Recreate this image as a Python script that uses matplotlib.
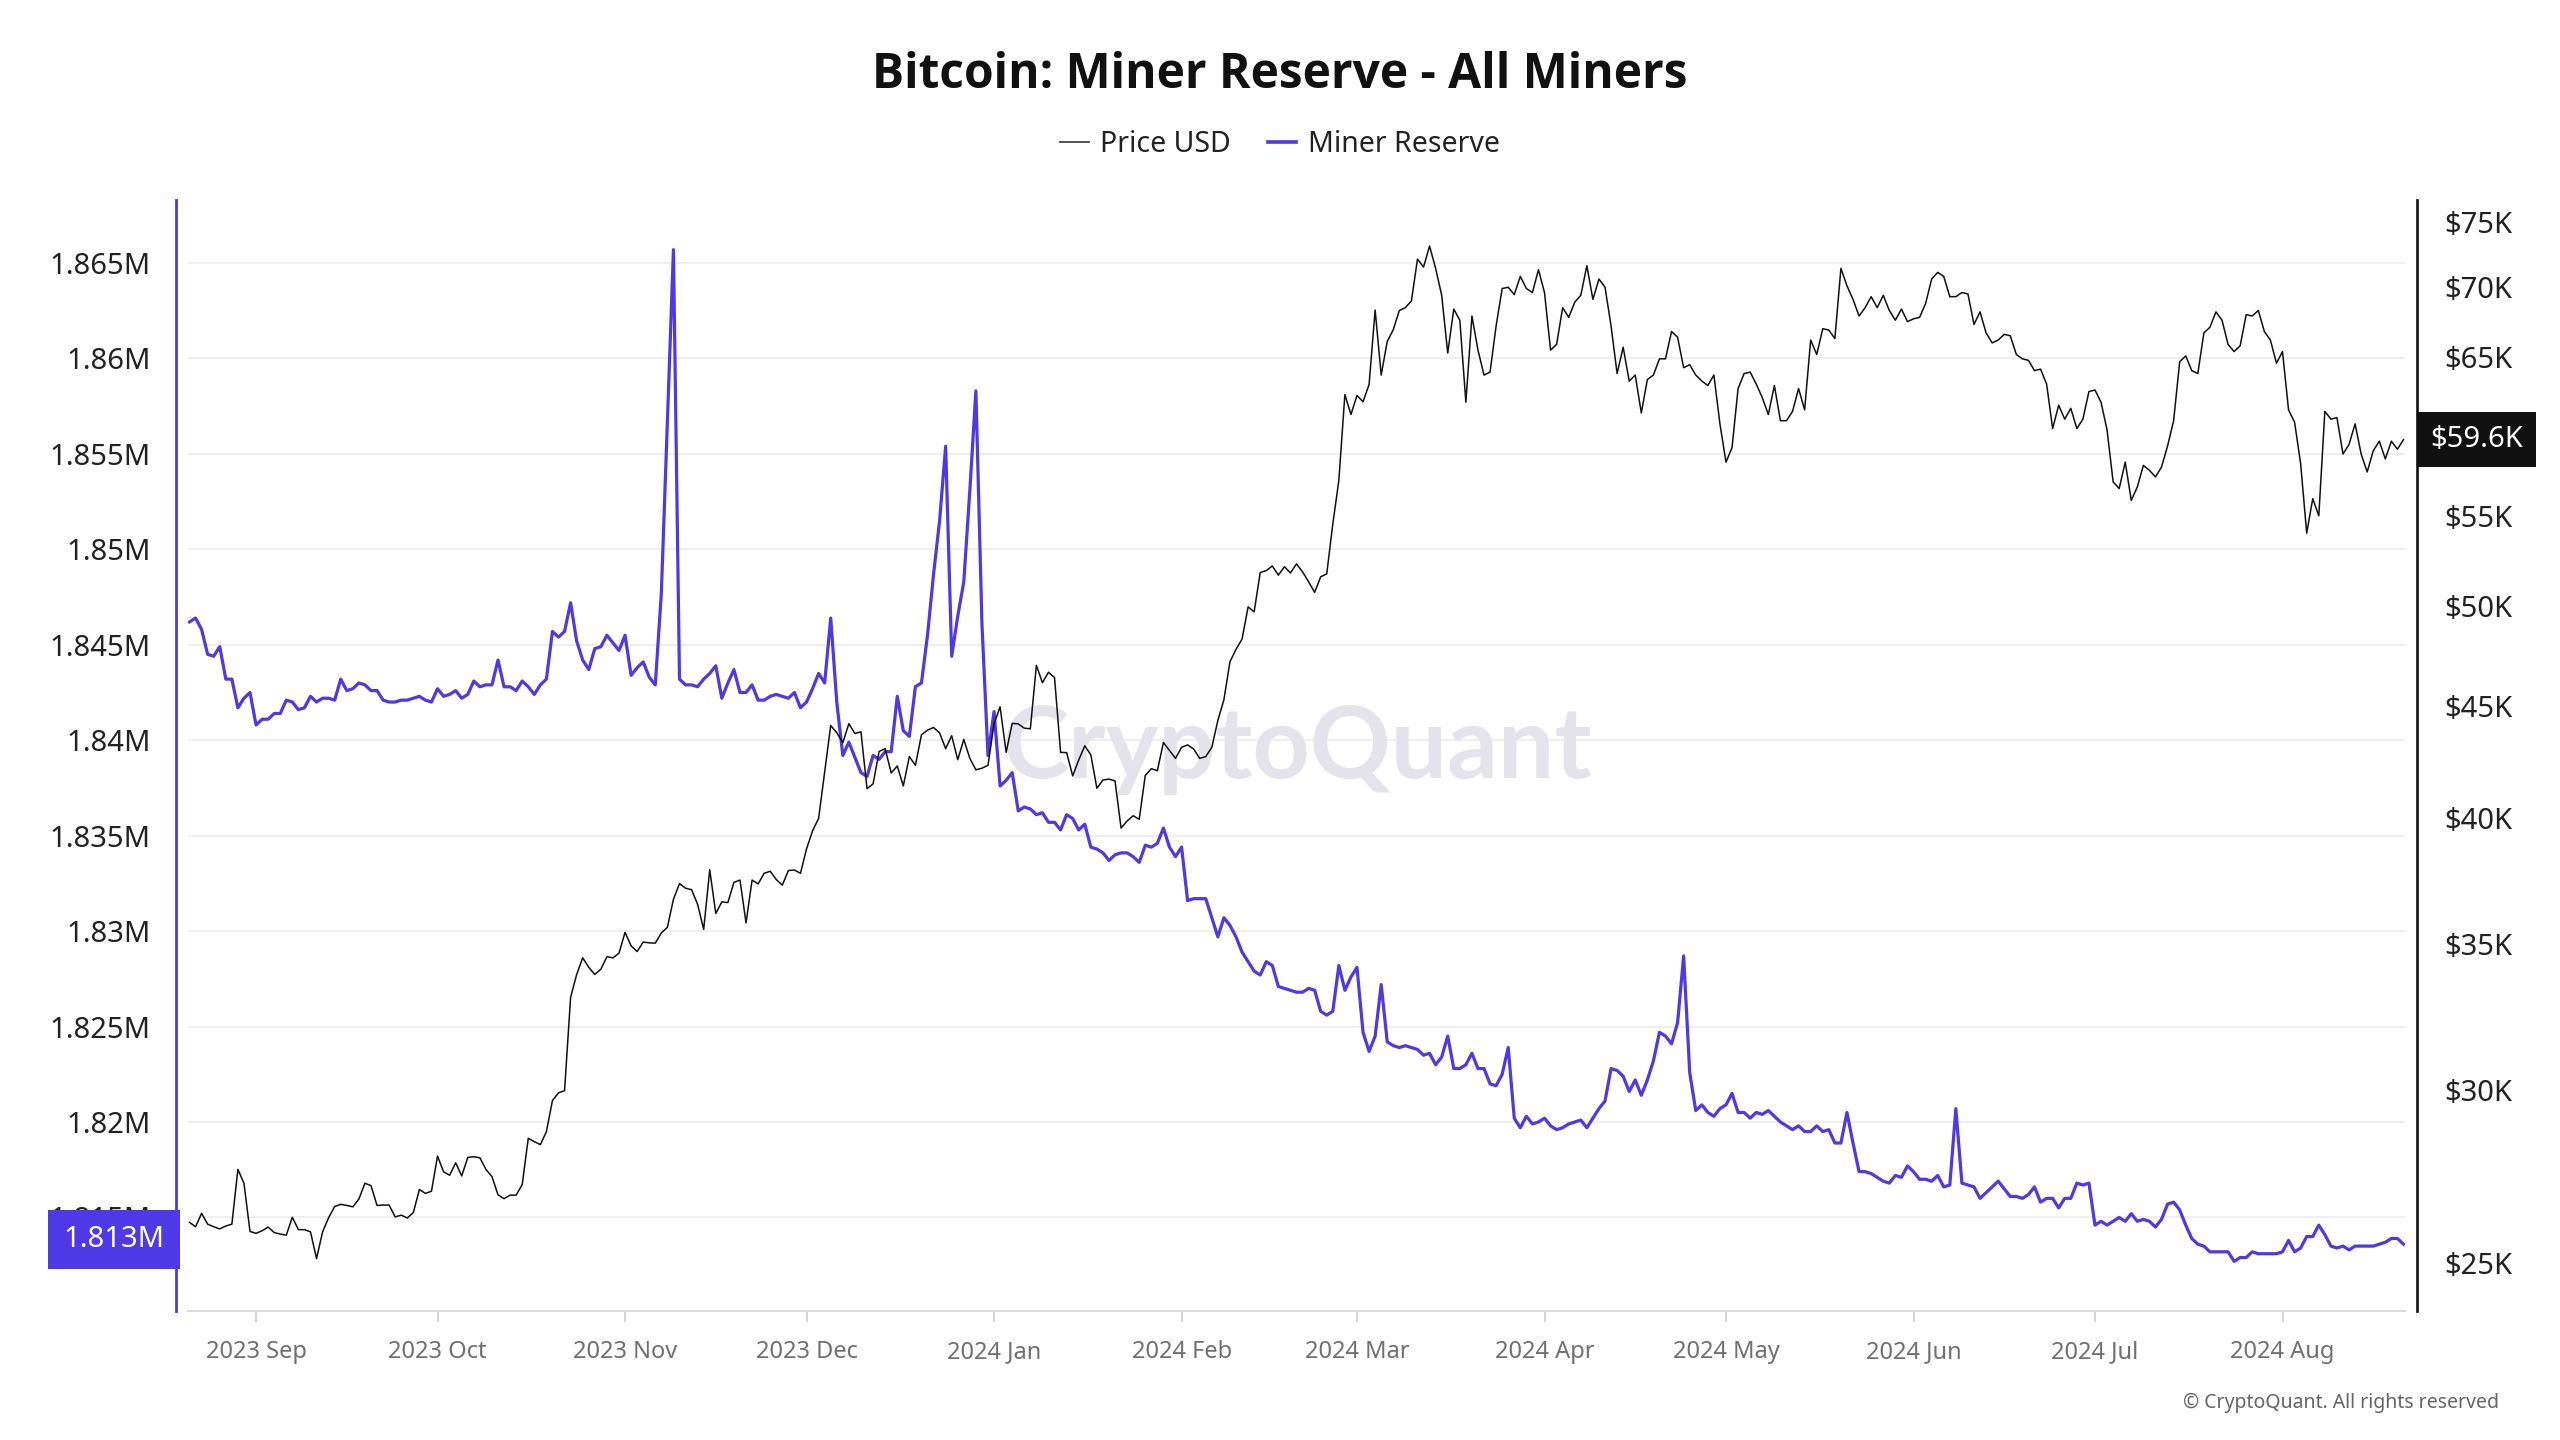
import numpy as np
import pandas as pd
import matplotlib
matplotlib.use("Agg")
import matplotlib.pyplot as plt
import matplotlib.dates as mdates
import matplotlib.transforms as mtransforms
from matplotlib.lines import Line2D
from matplotlib.ticker import NullLocator, FuncFormatter

plt.rcParams['font.family'] = ['Noto Sans', 'DejaVu Sans']

# ---------------------------------------------------------------- data
start_date = '2023-08-21'   # daily values, one per day

# BTC price, thousands of USD
price_usd_k = [
    26.10, 25.98, 26.35, 26.05, 25.98, 25.92, 26.00, 26.05, 27.60, 27.20, 25.85,
    25.80, 25.87, 25.97, 25.82, 25.78, 25.75, 26.24, 25.90, 25.90, 25.84, 25.12, 25.84, 26.23, 26.54, 26.60,
    26.57, 26.53, 26.75, 27.20, 27.13, 26.57, 26.58, 26.58, 26.25, 26.30, 26.22, 26.37, 27.02, 26.91, 26.97,
    27.99, 27.53, 27.43, 27.79, 27.41, 27.95, 27.97, 27.94, 27.60, 27.39, 26.87, 26.76, 26.86, 26.86, 27.16,
    28.52, 28.42, 28.33, 28.72, 29.68, 29.92, 29.99, 33.09, 33.90, 34.50, 34.16, 33.90, 34.09, 34.54, 34.50, 34.67,
    35.44, 34.94, 34.73, 35.08, 35.05, 35.04, 35.42, 35.63, 36.70, 37.31, 37.13, 37.07, 36.50, 35.55, 37.86,
    36.15, 36.60, 36.57, 37.36, 37.45, 35.80, 37.45, 37.30, 37.72, 37.80, 37.47, 37.25, 37.83, 37.85, 37.72,
    38.70, 39.45, 39.97, 41.98, 44.08, 43.75, 43.29, 44.17, 43.71, 43.79, 41.24, 41.45, 42.89, 43.02, 41.93,
    42.24, 41.36, 42.66, 42.27, 43.65, 43.87, 43.99, 43.74, 43.02, 43.61, 42.52, 43.44, 42.58, 42.07, 42.14, 42.27,
    44.17, 44.96, 42.85, 44.18, 44.16, 43.96, 43.93, 46.97, 46.12, 46.63, 46.37, 42.85, 42.84, 41.80, 42.51,
    43.15, 42.74, 41.26, 41.62, 41.66, 41.58, 39.56, 39.86, 40.08, 39.93, 41.82, 42.12, 42.03, 43.30, 42.94, 42.58,
    43.08, 43.19, 43.00, 42.58, 42.66, 43.08, 44.32, 45.30, 47.15, 47.77, 48.29, 49.96, 49.70, 51.80, 51.91,
    52.16, 51.66, 52.12, 51.78, 52.28, 51.84, 51.30, 50.73, 51.57, 51.73, 54.52, 57.09, 62.50, 61.20,
    62.44, 62.03, 63.17, 68.33, 63.80, 66.10, 66.93, 68.30, 68.50, 69.00, 72.10, 71.50, 73.10, 71.40, 69.40,
    65.30, 68.40, 67.60, 62.00, 67.90, 65.50, 63.80, 64.00, 67.20, 69.90, 69.99, 69.45, 70.80, 69.90, 69.60, 71.30,
    69.60, 65.50, 65.90, 68.50, 67.80, 68.90, 69.40, 71.60, 69.10, 70.60, 70.00, 67.20, 63.90, 65.70, 63.40,
    63.80, 61.30, 63.50, 63.80, 64.90, 64.90, 66.80, 66.40, 64.30, 64.50, 63.80, 63.40, 63.10, 63.80, 60.60,
    58.20, 59.10, 62.90, 63.90, 64.00, 63.20, 62.30, 61.20, 63.10, 60.80, 60.80, 61.40, 62.90, 61.50, 66.20,
    65.20, 67.00, 66.90, 66.30, 71.40, 70.10, 69.10, 67.90, 68.50, 69.30, 68.50, 69.40, 68.30, 67.60, 68.40, 67.50,
    67.70, 67.80, 68.80, 70.60, 71.10, 70.80, 69.30, 69.30, 69.60, 69.50, 67.30, 68.20, 66.70, 66.00, 66.20,
    66.60, 66.50, 65.20, 64.90, 64.80, 64.10, 64.20, 63.20, 60.30, 61.80, 60.90, 61.60, 60.30, 60.90, 62.70,
    62.80, 62.00, 60.20, 57.00, 56.60, 58.20, 55.90, 56.70, 58.00, 57.70, 57.30, 57.90, 59.20, 60.80, 64.70,
    65.10, 64.10, 63.90, 66.70, 67.10, 68.20, 67.60, 65.90, 65.40, 65.80, 68.00, 67.90, 68.30, 66.80, 66.20, 64.60,
    65.40, 61.50, 60.70, 58.10, 54.00, 56.00, 55.00, 61.40, 60.90, 61.00, 58.70, 59.30, 60.60, 58.70, 57.60,
    58.90, 59.50, 58.40, 59.50, 59.00, 59.60,
]

# miner reserve, thousands of BTC
miner_reserve_k = [
    1846.2, 1846.4, 1845.8, 1844.5, 1844.4, 1844.9, 1843.2, 1843.2, 1841.7, 1842.2, 1842.5,
    1840.8, 1841.1, 1841.1, 1841.4, 1841.4, 1842.1, 1842.0, 1841.6, 1841.7, 1842.3, 1842.0, 1842.2, 1842.2, 1842.1, 1843.2,
    1842.6, 1842.7, 1843.0, 1842.9, 1842.6, 1842.6, 1842.1, 1842.0, 1842.0, 1842.1, 1842.1, 1842.2, 1842.3, 1842.1, 1842.0,
    1842.7, 1842.3, 1842.4, 1842.6, 1842.2, 1842.4, 1843.1, 1842.8, 1842.9, 1842.9, 1844.2, 1842.8, 1842.8, 1842.6, 1843.1,
    1842.8, 1842.4, 1842.9, 1843.2, 1845.7, 1845.4, 1845.7, 1847.2, 1845.2, 1844.2, 1843.7, 1844.8, 1844.9, 1845.5, 1845.1, 1844.7,
    1845.5, 1843.4, 1843.8, 1844.1, 1843.3, 1842.9, 1847.7, 1856.7, 1865.7, 1843.2, 1842.9, 1842.9, 1842.8, 1843.2, 1843.5,
    1843.9, 1842.2, 1843.0, 1843.7, 1842.5, 1842.5, 1842.9, 1842.1, 1842.1, 1842.3, 1842.4, 1842.3, 1842.2, 1842.5, 1841.7,
    1842.0, 1842.7, 1843.5, 1843.0, 1846.4, 1842.0, 1839.2, 1839.9, 1839.1, 1838.3, 1838.1, 1839.2, 1839.0, 1839.4, 1839.4,
    1842.3, 1840.5, 1840.2, 1842.8, 1843.0, 1845.5, 1848.7, 1851.5, 1855.4, 1844.4, 1846.5, 1848.3, 1853.1, 1858.3, 1846.1, 1839.2,
    1841.5, 1837.6, 1837.9, 1838.3, 1836.3, 1836.5, 1836.4, 1836.1, 1836.2, 1835.7, 1835.7, 1835.3, 1836.1, 1835.9, 1835.3,
    1835.6, 1834.4, 1834.3, 1834.1, 1833.7, 1834.0, 1834.1, 1834.1, 1833.9, 1833.6, 1834.5, 1834.4, 1834.6, 1835.4, 1834.4, 1833.9,
    1834.4, 1831.6, 1831.7, 1831.7, 1831.7, 1830.7, 1829.7, 1830.7, 1830.3, 1829.7, 1828.9, 1828.4, 1827.9, 1827.7, 1828.4,
    1828.2, 1827.1, 1827.0, 1826.9, 1826.8, 1826.8, 1827.0, 1826.9, 1825.8, 1825.6, 1825.8, 1828.2, 1826.9, 1827.6,
    1828.1, 1824.7, 1823.7, 1824.5, 1827.2, 1824.2, 1824.0, 1823.9, 1824.0, 1823.9, 1823.8, 1823.5, 1823.6, 1823.0, 1823.4,
    1824.5, 1822.8, 1822.8, 1823.0, 1823.6, 1822.8, 1822.8, 1822.0, 1821.9, 1822.5, 1823.9, 1820.2, 1819.7, 1820.3, 1819.9, 1820.0,
    1820.2, 1819.8, 1819.6, 1819.7, 1819.9, 1820.0, 1820.1, 1819.7, 1820.2, 1820.7, 1821.1, 1822.8, 1822.7, 1822.4, 1821.6,
    1822.2, 1821.4, 1822.2, 1823.2, 1824.7, 1824.5, 1824.1, 1825.2, 1828.7, 1822.6, 1820.6, 1820.9, 1820.5, 1820.3, 1820.7,
    1820.9, 1821.5, 1820.5, 1820.5, 1820.2, 1820.5, 1820.4, 1820.6, 1820.3, 1820.0, 1819.8, 1819.6, 1819.8, 1819.5, 1819.5,
    1819.8, 1819.5, 1819.6, 1818.9, 1818.9, 1820.5, 1818.9, 1817.4, 1817.4, 1817.3, 1817.1, 1816.9, 1816.8, 1817.2, 1817.1, 1817.7,
    1817.4, 1817.0, 1817.0, 1816.9, 1817.2, 1816.6, 1816.7, 1820.7, 1816.8, 1816.7, 1816.6, 1816.0, 1816.3, 1816.6, 1816.9,
    1816.5, 1816.1, 1816.1, 1816.0, 1816.2, 1816.6, 1815.8, 1816.0, 1816.0, 1815.5, 1816.0, 1816.0, 1816.8, 1816.7, 1816.8,
    1814.6, 1814.8, 1814.6, 1814.8, 1815.0, 1814.8, 1815.2, 1814.8, 1814.9, 1814.8, 1814.5, 1814.9, 1815.7, 1815.8, 1815.4,
    1814.6, 1813.9, 1813.6, 1813.5, 1813.2, 1813.2, 1813.2, 1813.2, 1812.7, 1812.9, 1812.9, 1813.2, 1813.1, 1813.1, 1813.1, 1813.1,
    1813.2, 1813.8, 1813.2, 1813.4, 1814.0, 1814.0, 1814.6, 1814.1, 1813.5, 1813.4, 1813.5, 1813.3, 1813.5, 1813.5, 1813.5,
    1813.5, 1813.6, 1813.7, 1813.9, 1813.9, 1813.6,
]

reserve_ticks = [1815, 1820, 1825, 1830, 1835, 1840, 1845, 1850, 1855, 1860, 1865]
price_tick_show = [25, 30, 35, 40, 45, 50, 55, 65, 70, 75]   # $60K sits behind the last-value box

dates = pd.date_range(start_date, periods=len(price_usd_k), freq='D')

PURPLE = '#4f38e6'
INK = '#111111'
BOLD_FAMILY = ['Open Sans', 'Lato', 'Roboto', 'DejaVu Sans']

# ---------------------------------------------------------------- figure
fig = plt.figure(figsize=(25.6, 14.4), dpi=100)
ax = fig.add_axes([188 / 2560, 129 / 1440, 2217 / 2560, 1111 / 1440])
ax2 = ax.twinx()

ax.plot(dates, miner_reserve_k, color=PURPLE, lw=2.3, zorder=3)
ax2.plot(dates, price_usd_k, color=INK, lw=1.1, zorder=3)

half_day = pd.Timedelta(hours=6)
ax.set_xlim(dates[0] - half_day, dates[-1] + half_day)

# left axis : miner reserve
ax.set_ylim(1810.1, 1868.3)
ax.set_yticks(reserve_ticks)
ax.yaxis.set_major_formatter(FuncFormatter(lambda v, p: f"{v / 1000:g}M"))
ax.tick_params(axis='y', length=0, pad=18, labelsize=21, labelcolor='#222222')
ax.grid(axis='y', color='#efeff3', lw=1.4)
ax.set_axisbelow(True)

# right axis : price (log)
ax2.set_yscale('log')
ax2.set_ylim(23.77, 76.74)
ax2.set_yticks(price_tick_show)
ax2.set_yticklabels([f"${v}K" for v in price_tick_show])
ax2.yaxis.set_minor_locator(NullLocator())
ax2.tick_params(axis='y', length=0, pad=20, labelsize=21, labelcolor='#222222')

# x axis
ax.xaxis.set_major_locator(mdates.MonthLocator())
ax.xaxis.set_major_formatter(mdates.DateFormatter('%Y %b'))
ax.tick_params(axis='x', direction='out', length=8, width=1.4, color='#d3d3dc',
               pad=13, labelsize=17, labelcolor='#707070')

for s in ['top', 'right']:
    ax.spines[s].set_visible(False)
ax.spines['left'].set_color(PURPLE)
ax.spines['left'].set_linewidth(2.0)
ax.spines['left'].set_position(('outward', 8.6))
ax.spines['bottom'].set_color('#d8d8e0')
ax.spines['bottom'].set_linewidth(1.4)
for s in ['top', 'left', 'bottom']:
    ax2.spines[s].set_visible(False)
ax2.spines['right'].set_color(INK)
ax2.spines['right'].set_linewidth(1.9)
ax2.spines['right'].set_position(('outward', 8.6))

# last value boxes
last_price = price_usd_k[-1]
tr2 = mtransforms.blended_transform_factory(ax2.transAxes, ax2.transData)
ax2.text(1.0115, last_price, f"${last_price:.1f}K", transform=tr2, ha='left', va='center',
         color='white', fontsize=21, zorder=10, clip_on=False,
         bbox=dict(boxstyle='square,pad=0.45', fc=INK, ec='none'))

last_reserve = miner_reserve_k[-1]
tr1 = mtransforms.blended_transform_factory(ax.transAxes, ax.transData)
ax.text(-0.0105, last_reserve + 0.25, f"{np.floor(last_reserve) / 1000:.3f}M", transform=tr1,
        ha='right', va='center', color='white', fontsize=21, zorder=10, clip_on=False,
        bbox=dict(boxstyle='square,pad=0.52', fc=PURPLE, ec='none'))

# watermark
ax.text(0.5, 0.505, 'CryptoQuant', transform=ax.transAxes, ha='center', va='center',
        fontsize=72, fontweight='bold', color='#e4e2ea', family=['Lato', 'DejaVu Sans'], zorder=1)

# title, legend, footer
fig.text(0.5, 0.9475, 'Bitcoin: Miner Reserve - All Miners', ha='center', va='center',
         fontsize=34.5, fontweight='bold', color=INK, family=BOLD_FAMILY)
handles = [Line2D([], [], color='#444444', lw=1.3), Line2D([], [], color=PURPLE, lw=2.6)]
leg = fig.legend(handles, ['Price USD', 'Miner Reserve'], loc='center', bbox_to_anchor=(0.5, 0.9),
                 ncol=2, frameon=False, fontsize=20.5, handlelength=1.0, handletextpad=0.4,
                 columnspacing=1.3)
for t in leg.get_texts():
    t.set_color('#222222')
fig.text(0.976, 0.0257, '\u00a9 CryptoQuant. All rights reserved', ha='right', va='center',
         fontsize=14, color='#666666')

fig.savefig('out.png', dpi=100)
